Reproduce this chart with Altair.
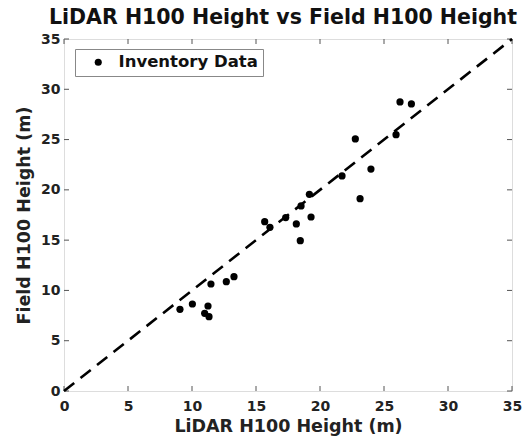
import altair as alt
import pandas as pd

lidar = [9.06, 10.03, 11.25, 10.99, 11.33, 11.48, 12.68, 13.28, 15.68, 16.09, 17.32, 18.15,
         18.46, 18.52, 19.17, 19.30, 21.72, 22.76, 23.98, 23.13, 25.94, 26.25, 27.14]
field = [8.12, 8.65, 8.45, 7.72, 7.39, 10.64, 10.87, 11.37, 16.84, 16.27, 17.24, 16.61,
         14.95, 18.40, 19.56, 17.30, 21.38, 25.06, 22.07, 19.12, 25.49, 28.74, 28.54]
series_name = "Inventory Data"
one_to_one = [0, 35]
tick_vals = [0, 5, 10, 15, 20, 25, 30, 35]

W, H = 448, 352
FONT = "DejaVu Sans"
FRAME = "#555555"

pts = pd.DataFrame({"lidar": lidar, "field": field, "series": [series_name] * len(lidar)})
line_df = pd.DataFrame({"lidar": one_to_one, "field": one_to_one})
ticks_df = pd.DataFrame({"t": tick_vals})

xs = alt.Scale(domain=[0, 35], nice=False, zero=False)
ys = alt.Scale(domain=[0, 35], nice=False, zero=False)

xaxis = alt.Axis(values=tick_vals, title="LiDAR H100 Height (m)", ticks=False, domain=False,
                 grid=False, labelFont=FONT, labelFontWeight="bold", labelFontSize=14,
                 labelColor="#222222", labelPadding=8, titleFont=FONT, titleFontWeight="bold",
                 titleFontSize=17.5, titleColor="#222222", titlePadding=4, labelFlush=False)
yaxis = alt.Axis(values=tick_vals, title="Field H100 Height (m)", ticks=False, domain=False,
                 grid=False, labelFont=FONT, labelFontWeight="bold", labelFontSize=14,
                 labelColor="#222222", labelPadding=4, titleFont=FONT, titleFontWeight="bold",
                 titleFontSize=17.5, titleColor="#222222", titlePadding=7, labelFlush=False)

line = alt.Chart(line_df).mark_line(color="black", strokeWidth=2.6, strokeDash=[13, 8]).encode(
    x=alt.X("lidar:Q", scale=xs, axis=xaxis),
    y=alt.Y("field:Q", scale=ys, axis=yaxis),
)

points = alt.Chart(pts).mark_circle(size=52, opacity=1).encode(
    x=alt.X("lidar:Q", scale=xs),
    y=alt.Y("field:Q", scale=ys),
    color=alt.Color("series:N", scale=alt.Scale(range=["black"]),
                    legend=alt.Legend(title=None, orient="none", legendX=11, legendY=10,
                                      strokeColor="#888888", fillColor="white", padding=5,
                                      symbolType="circle", symbolSize=50, symbolOffset=10,
                                      labelOffset=12, labelFont=FONT, labelFontWeight="bold",
                                      labelFontSize=16.5, labelColor="#111111")),
)

tick_bottom = alt.Chart(ticks_df).mark_rule(color=FRAME, strokeWidth=1).encode(
    x=alt.X("t:Q", scale=xs), y=alt.value(H), y2=alt.value(H - 5))
tick_top = alt.Chart(ticks_df).mark_rule(color=FRAME, strokeWidth=1).encode(
    x=alt.X("t:Q", scale=xs), y=alt.value(0), y2=alt.value(5))
tick_left = alt.Chart(ticks_df).mark_rule(color=FRAME, strokeWidth=1).encode(
    y=alt.Y("t:Q", scale=ys), x=alt.value(0), x2=alt.value(5))
tick_right = alt.Chart(ticks_df).mark_rule(color=FRAME, strokeWidth=1).encode(
    y=alt.Y("t:Q", scale=ys), x=alt.value(W), x2=alt.value(W - 5))

chart = alt.layer(tick_bottom, tick_top, tick_left, tick_right, line, points).properties(
    width=W, height=H,
    title=alt.TitleParams("LiDAR H100 Height vs Field H100 Height", font=FONT, fontWeight="bold",
                          fontSize=20.5, color="#111111", anchor="middle", offset=4, dx=-5),
    autosize=alt.AutoSizeParams(type="none"),
    padding={"left": 64, "top": 39, "right": 14, "bottom": 48},
).configure_view(stroke=FRAME, strokeWidth=1).configure(background="white")

chart.save("out.html", embed_options={"renderer": "svg", "actions": False})
